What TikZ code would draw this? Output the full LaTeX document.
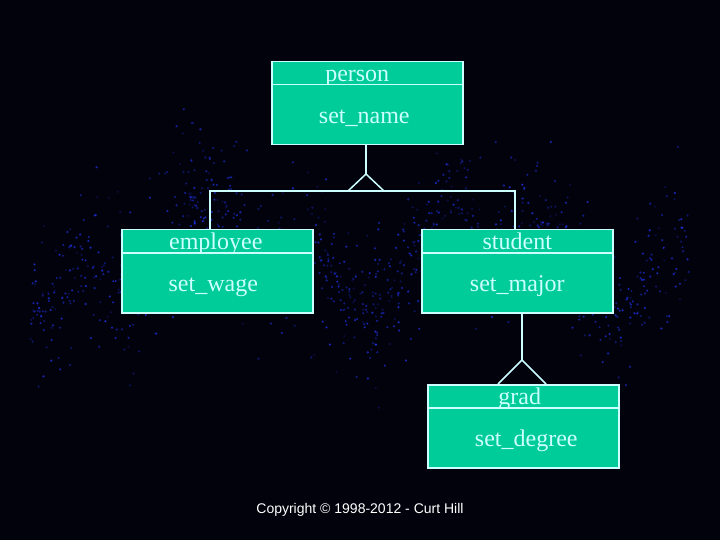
\documentclass[tikz,border=0pt]{standalone}
\usepackage{fontspec}
\setmainfont{Liberation Serif}
\newfontfamily\arialfont{Liberation Sans}
\definecolor{boxfill}{RGB}{0,204,153}
\definecolor{edgecol}{RGB}{204,255,255}
\definecolor{bgcol}{RGB}{2,2,12}
\definecolor{fractal}{RGB}{30,50,230}
\tikzset{
  head/.style={draw=edgecol, fill=boxfill, line width=1.5pt, minimum width=191pt, minimum height=23pt,
    inner sep=0pt, text=edgecol, font=\fontsize{24}{26}\selectfont, text height=19pt, text depth=2pt},
  body/.style={draw=edgecol, fill=boxfill, line width=1.5pt, minimum width=191pt, minimum height=60pt,
    inner sep=0pt, text=edgecol, font=\fontsize{24}{26}\selectfont, text height=19pt, text depth=2pt},
  link/.style={draw=edgecol, line width=1.5pt},
}
\begin{document}
\begin{tikzpicture}[x=1pt,y=-1pt]
\fill[bgcol] (0,0) rectangle (720,540);
\useasboundingbox (0,0) rectangle (720,540);
% faint fractal-like dust
\pgfmathsetseed{7}
\foreach \i in {1,...,1100}{
  \pgfmathsetmacro{\px}{30+rnd*660}
  \pgfmathsetmacro{\py}{255+40*sin(\px*1.3)+25*sin(\px*3.1)+(rnd-0.5)*(rnd)*220}
  \pgfmathsetmacro{\op}{0.2+0.6*rnd}
  \fill[fractal, opacity=\op] (\px,\py) circle (1.2pt);
}
% person
\node[head, anchor=north west] (personh) at (271,61) {\hspace*{-20pt}person};
\node[body, anchor=north west] (personb) at (271,84) {\hspace*{-6pt}set\_name};
% employee
\node[head, anchor=north west] (emph) at (121,229) {\hspace*{-3pt}employee};
\node[body, anchor=north west] (empb) at (121,252) {\hspace*{-8pt}set\_wage};
% student
\node[head, anchor=north west] (studh) at (421,229) {student};
\node[body, anchor=north west] (studb) at (421,252) {set\_major};
% grad
\node[head, anchor=north west] (gradh) at (427,384) {\hspace*{-7pt}grad};
\node[body, anchor=north west] (gradb) at (427,407) {set\_degree\hspace*{-6pt}};
% inheritance person
\coordinate (apex1) at (366,174);
\coordinate (bl1) at (348,191);
\coordinate (br1) at (384,191);
\coordinate (barL) at (210,191);
\coordinate (barR) at (515,191);
\draw[link] (personb.south -| apex1) -- (apex1);
\draw[link] (bl1) -- (apex1) -- (br1);
\draw[link] (emph.north -| barL) -- (barL) -- (barR) -- (studh.north -| barR);
% inheritance student
\coordinate (apex2) at (522,360);
\coordinate (bl2) at (498,384);
\coordinate (br2) at (546,384);
\draw[link] (studb.south -| apex2) -- (apex2);
\draw[link] (bl2) -- (apex2) -- (br2);
% copyright
\node[text=white, font=\arialfont\fontsize{14}{16}\selectfont] (copy) at (360,510) {Copyright © 1998-2012 - Curt Hill};
\end{tikzpicture}
\end{document}
